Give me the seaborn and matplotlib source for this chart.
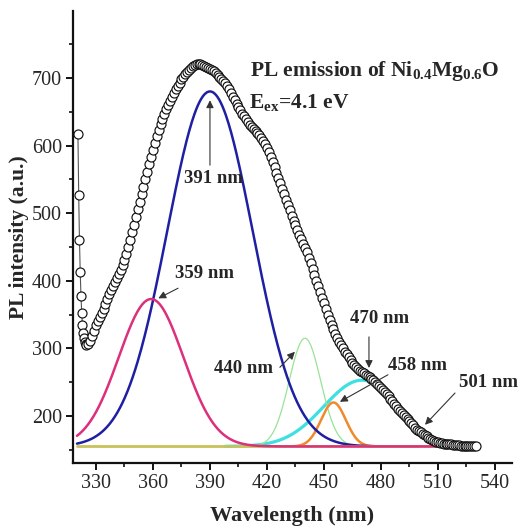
import numpy as np
import matplotlib
matplotlib.use("Agg")
import matplotlib.pyplot as plt
import seaborn as sns

# ---- measured PL spectrum (open circles) ----
start_wl = [320.5, 320.9, 321.3, 321.7, 322.1, 322.5, 322.9, 323.3, 323.7, 324.1, 324.6]
start_pl = [617, 527, 461, 413, 377, 352, 335, 323, 315, 309, 306]

body_wl = list(range(325, 531))
body_pl = [
    305, 306, 311, 318, 326, 334, 341, 347, 353, 359,          # 325-334
    366, 373, 380, 387, 393, 398, 404, 410, 416, 423,          # 335-344
    431, 440, 450, 461, 472, 483, 495, 506, 517, 528,          # 345-354
    539, 550, 561, 572, 583, 594, 604, 614, 623, 632,          # 355-364
    640, 647, 654, 660, 666, 672, 678, 683, 688, 693,          # 365-374
    698, 702, 706, 709, 712, 715, 717, 719, 720, 720,          # 375-384
    720, 719, 718, 716, 715, 713, 712, 710, 708, 705,          # 385-394
    702, 699, 696, 692, 688, 683, 678, 672, 667, 662,          # 395-404
    657, 652, 647, 643, 639, 635, 631, 628, 625, 622,          # 405-414
    619, 615, 611, 607, 602, 597, 590, 583, 576, 568,          # 415-424
    560, 552, 544, 536, 528, 520, 512, 504, 496, 489,          # 425-434
    482, 475, 468, 462, 455, 449, 442, 434, 426, 418,          # 435-444
    409, 400, 392, 384, 375, 367, 358, 350, 342, 335,          # 445-454
    328, 322, 316, 310, 305, 300, 295, 291, 287, 283,          # 455-464
    279, 276, 273, 270, 267, 265, 263, 261, 259, 257,          # 465-474
    255, 253, 251, 248, 245, 242, 239, 236, 232, 229,          # 475-484
    225, 222, 218, 215, 211, 208, 204, 201, 198, 195,          # 485-494
    192, 189, 186, 183, 180, 178, 176, 174, 172, 170,          # 495-504
    168, 166, 164, 163, 162, 161, 160, 160, 159, 159,          # 505-514
    158, 158, 158, 157, 157, 157, 157, 156, 156, 156,          # 515-524
    156, 156, 156, 156, 156, 156,                              # 525-530
]

# ---- Gaussian fit components ----
baseline = 155
comp_names = ["359 nm", "391 nm", "440 nm", "458 nm", "470 nm"]
comp_center = [359, 390, 440, 455, 470]
comp_height = [218, 525, 160, 65, 98]
comp_sigma = [17.0, 22.5, 8.3, 6.5, 20.0]
comp_range = [(320, 512), (320, 500), (405, 480), (425, 485), (398, 474)]
comp_color = ["#dc2f7c", "#1f1fa3", "#98e398", "#f08a2a", "#3ee0e0"]
comp_lw = [1.8, 1.8, 0.9, 1.8, 2.3]
draw_order = [4, 2, 3, 1, 0]  # cyan, green, orange, blue, (baseline), pink

# ---- annotations ----
label_text = ["391 nm", "359 nm", "440 nm", "470 nm", "458 nm", "501 nm"]
label_pos = [(391.6, 552), (387.0, 411), (407.5, 270), (479.5, 344), (499.5, 274), (536.5, 249)]
arrow_tail = [(390, 571), (373.2, 389), (426.8, 272), (473.7, 317), (483.7, 261), (519, 234)]
arrow_tip = [(390, 667), (362.8, 374), (434.7, 295), (473.7, 271), (458.4, 221), (503.2, 187)]

sns.set_style("ticks")
plt.rcParams["font.family"] = ["Liberation Serif", "DejaVu Serif"]
plt.rcParams["mathtext.fontset"] = "custom"
plt.rcParams["mathtext.rm"] = "Liberation Serif"
plt.rcParams["mathtext.bf"] = "Liberation Serif:bold"
plt.rcParams["mathtext.it"] = "Liberation Serif:italic"

fig = plt.figure(figsize=(5.22, 5.32), dpi=100)
ax = fig.add_axes([73 / 522, 69 / 532, 439 / 522, 452 / 532])

def gauss_curve(i):
    lo, hi = comp_range[i]
    x = np.linspace(lo, hi, 400)
    y = baseline + comp_height[i] * np.exp(-(x - comp_center[i]) ** 2 / (2 * comp_sigma[i] ** 2))
    return x, y

for i in draw_order:
    if i == 0:
        sns.lineplot(x=[320, 510], y=[baseline, baseline], ax=ax, color="#c9c25a",
                     lw=2.0, zorder=2)
    x, y = gauss_curve(i)
    sns.lineplot(x=x, y=y, ax=ax, color=comp_color[i], lw=comp_lw[i], zorder=2,
                 sort=False, estimator=None)

all_wl = start_wl + body_wl
all_pl = start_pl + body_pl
sns.lineplot(x=all_wl, y=all_pl, ax=ax, color="#555555", lw=0.8, sort=False, estimator=None,
             marker="o", markersize=6.5, markerfacecolor="white", markeredgecolor="#111111",
             markeredgewidth=0.85, zorder=5)

ax.set_xlim(317.9, 549)
ax.set_ylim(130.5, 799)
ax.set_xticks(np.arange(330, 541, 30))
ax.set_xticks(np.arange(345, 541, 30), minor=True)
ax.set_yticks(np.arange(200, 701, 100))
ax.set_yticks(np.arange(150, 751, 100), minor=True)
ax.tick_params(axis="both", which="major", direction="out", length=5, width=1.4,
               labelsize=14.5, color="#111111", pad=3)
ax.tick_params(axis="both", which="minor", direction="out", length=3, width=1.2,
               color="#111111")
sns.despine(ax=ax)
for s in ["left", "bottom"]:
    ax.spines[s].set_linewidth(1.6)
    ax.spines[s].set_color("#111111")

ax.set_xlabel("Wavelength (nm)", fontsize=16, fontweight="bold", va="center")
ax.set_ylabel("PL intensity (a.u.)", fontsize=15.5, fontweight="bold", va="center")
ax.xaxis.set_label_coords(0.5, -0.117)
ax.yaxis.set_label_coords(-0.123, 0.5)

ax.text(411, 703, r"PL emission of Ni$_{\mathbf{0.4}}$Mg$_{\mathbf{0.6}}$O",
        fontsize=15.5, fontweight="bold", va="baseline", ha="left")
ax.text(410.5, 656, r"E$_{\mathbf{ex}}$=4.1 eV",
        fontsize=15.5, fontweight="bold", va="baseline", ha="left")

for t, p, tail, tip in zip(label_text, label_pos, arrow_tail, arrow_tip):
    ax.text(p[0], p[1], t, fontsize=13.5, fontweight="bold", ha="center", va="center",
            zorder=6)
    ax.annotate("", xy=tip, xytext=tail,
                arrowprops=dict(arrowstyle="-|>", color="#333333", lw=0.8,
                                mutation_scale=11, shrinkA=0, shrinkB=0),
                zorder=6)

fig.savefig("out.png", dpi=100)
